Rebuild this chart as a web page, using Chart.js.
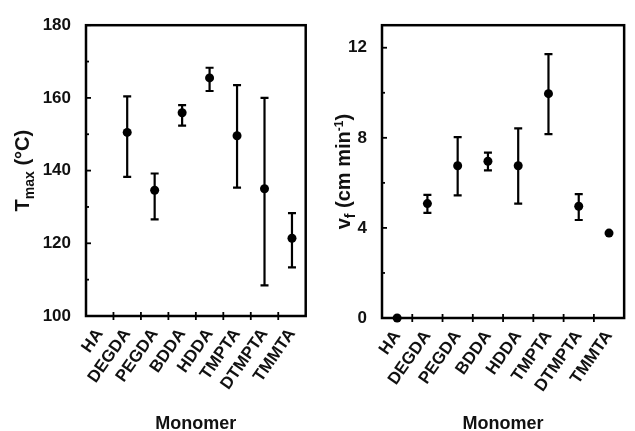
<!DOCTYPE html>
<html>
<head>
<meta charset="utf-8">
<script src="https://cdn.jsdelivr.net/npm/chart.js@4.4.1/dist/chart.umd.min.js"></script>
<style>
  html, body { margin: 0; padding: 0; background: #fff; }
  #wrap { display: flex; width: 635px; height: 431px; }
  canvas { display: block; }
</style>
</head>
<body>
<div id="wrap">
  <canvas id="tmaxChart" width="318" height="431"></canvas>
  <canvas id="vfChart" width="317" height="431"></canvas>
</div>
<script>
// monomer categories (same for both panels)
const monomers = ['HA', 'DEGDA', 'PEGDA', 'BDDA', 'HDDA', 'TMPTA', 'DTMPTA', 'TMMTA'];

// left panel: T max (°C), HA has no value
const tmaxMean = [null, 150.5, 134.6, 155.9, 165.5, 149.6, 135.0, 121.4];
const tmaxHigh = [null, 160.4, 139.2, 158.0, 168.3, 163.5, 160.0, 128.3];
const tmaxLow  = [null, 138.3, 126.6, 152.4, 161.9, 135.3, 108.4, 113.4];
const tmaxTicks = [100, 110, 120, 130, 140, 150, 160, 170, 180];
const tmaxLabels = [100, 120, 140, 160, 180];

// right panel: front velocity vf (cm/min)
const vfMean = [0, 5.08, 6.76, 6.96, 6.76, 9.96, 4.96, 3.77];
const vfHigh = [null, 5.47, 8.03, 7.34, 8.42, 11.72, 5.50, null];
const vfLow  = [null, 4.67, 5.44, 6.55, 5.08, 8.16, 4.35, null];
const vfTicks = [0, 2, 4, 6, 8, 10, 12];
const vfLabels = [0, 4, 8, 12];

const FONT = '"Liberation Sans", Arial, sans-serif';

// draws a rotated title made of normal / sub / superscript pieces
function drawRotatedRuns(ctx, runs, cx, cy) {
    ctx.save();
    let total = 0;
    runs.forEach(r => {
        ctx.font = 'bold ' + r.size + 'px ' + FONT;
        r.w = ctx.measureText(r.text).width;
        total += r.w;
    });
    ctx.translate(cx, cy);
    ctx.rotate(-Math.PI / 2);
    ctx.fillStyle = '#111';
    ctx.textBaseline = 'alphabetic';
    let x = -total / 2;
    runs.forEach(r => {
        ctx.font = 'bold ' + r.size + 'px ' + FONT;
        ctx.fillText(r.text, x, 7 + (r.dy || 0));
        x += r.w;
    });
    ctx.restore();
}

const framePlugin = {
    id: 'frame',
    beforeDatasetsDraw(chart) {
        const opts = chart.options.plugins.frame;
        const ctx = chart.ctx;
        const xs = chart.scales.x;
        const ys = chart.scales.y;

        // error bars
        ctx.save();
        ctx.strokeStyle = '#000';
        ctx.lineWidth = 2.2;
        opts.high.forEach((hi, i) => {
            const lo = opts.low[i];
            if (hi == null || lo == null) return;
            const px = xs.getPixelForValue(i);
            const yHi = ys.getPixelForValue(hi);
            const yLo = ys.getPixelForValue(lo);
            ctx.beginPath();
            ctx.moveTo(px, yHi); ctx.lineTo(px, yLo);
            ctx.moveTo(px - 4, yHi); ctx.lineTo(px + 4, yHi);
            ctx.moveTo(px - 4, yLo); ctx.lineTo(px + 4, yLo);
            ctx.stroke();
        });
        ctx.restore();
    },
    afterDraw(chart) {
        const opts = chart.options.plugins.frame;
        const ctx = chart.ctx;
        const area = chart.chartArea;
        const xs = chart.scales.x;
        const ys = chart.scales.y;
        ctx.save();
        ctx.strokeStyle = '#000';
        ctx.lineWidth = 2.5;
        ctx.strokeRect(area.left, area.top, area.right - area.left, area.bottom - area.top);

        // y ticks, pointing inside
        ctx.lineWidth = 1.8;
        ys.ticks.forEach(t => {
            const py = ys.getPixelForValue(t.value);
            const major = opts.labels.includes(t.value);
            ctx.beginPath();
            ctx.moveTo(area.left, py);
            ctx.lineTo(area.left + (major ? 5 : 3), py);
            ctx.stroke();
        });

        // x ticks at category boundaries
        for (let i = 0; i < monomers.length - 1; i++) {
            const bx = (xs.getPixelForValue(i) + xs.getPixelForValue(i + 1)) / 2;
            ctx.beginPath();
            ctx.moveTo(bx, area.bottom - 4);
            ctx.lineTo(bx, area.bottom + 4);
            ctx.stroke();
        }

        // axis titles
        drawRotatedRuns(ctx, opts.yTitle, opts.yTitleX, (area.top + area.bottom) / 2);
        ctx.font = 'bold 18px ' + FONT;
        ctx.fillStyle = '#111';
        ctx.textAlign = 'center';
        ctx.textBaseline = 'alphabetic';
        ctx.fillText('Monomer', (area.left + area.right) / 2, 429);
        ctx.restore();
    }
};

function makePanel(id, mean, high, low, yMin, yMax, ticks, labels, yAxisWidth, padRight, xAxisHeight, yTitle, yTitleX) {
    const ctx = document.getElementById(id).getContext('2d');
    return new Chart(ctx, {
        type: 'line',
        data: {
            labels: monomers,
            datasets: [{
                data: mean,
                showLine: false,
                pointRadius: 4.5,
                pointHoverRadius: 4.5,
                pointBackgroundColor: '#000',
                pointBorderColor: '#000',
                pointBorderWidth: 0,
                clip: false
            }]
        },
        options: {
            responsive: false,
            animation: false,
            layout: { padding: { top: 22, right: padRight, left: 0, bottom: 0 } },
            plugins: {
                legend: { display: false },
                tooltip: { enabled: false },
                frame: { high: high, low: low, labels: labels, yTitle: yTitle, yTitleX: yTitleX }
            },
            scales: {
                x: {
                    type: 'category',
                    offset: true,
                    grid: { display: false, drawTicks: false },
                    border: { display: false },
                    ticks: {
                        autoSkip: false,
                        minRotation: 55,
                        maxRotation: 55,
                        padding: 9,
                        color: '#111',
                        font: { family: FONT, size: 17, weight: 'bold' }
                    },
                    afterFit(scale) { scale.height = xAxisHeight; }
                },
                y: {
                    min: yMin,
                    max: yMax,
                    grid: { display: false, drawTicks: false },
                    border: { display: false },
                    afterBuildTicks(scale) {
                        scale.ticks = ticks.map(v => ({ value: v }));
                    },
                    ticks: {
                        padding: 15,
                        color: '#111',
                        font: { family: FONT, size: 17, weight: 'bold' },
                        callback: v => labels.includes(v) ? String(v) : ''
                    },
                    afterFit(scale) { scale.width = yAxisWidth; }
                }
            }
        },
        plugins: [framePlugin]
    });
}

makePanel('tmaxChart', tmaxMean, tmaxHigh, tmaxLow, 100, 180, tmaxTicks, tmaxLabels, 86, 5, 115,
    [{ text: 'T', size: 20 }, { text: 'max', size: 14, dy: 5 }, { text: ' (°C)', size: 20 }], 22);

makePanel('vfChart', vfMean, vfHigh, vfLow, 0, 13, vfTicks, vfLabels, 64, 4, 113,
    [{ text: 'v', size: 20 }, { text: 'f', size: 14, dy: 5 }, { text: ' (cm min', size: 20 },
     { text: '-1', size: 12, dy: -7 }, { text: ')', size: 20 }], 25);
</script>
</body>
</html>
